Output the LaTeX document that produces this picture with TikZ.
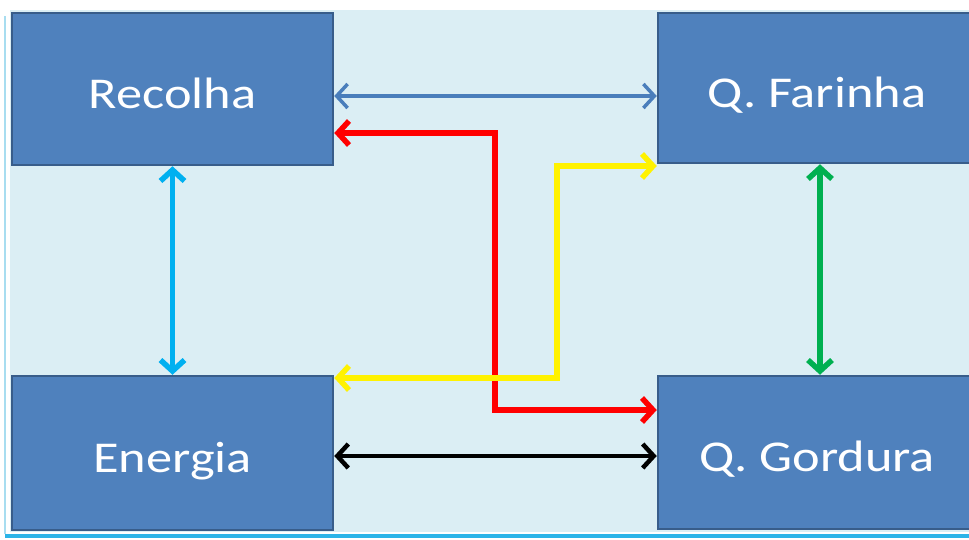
\documentclass[tikz,border=0pt]{standalone}
\usepackage{fontspec}
\setmainfont{Carlito}
\usetikzlibrary{arrows.meta}
\definecolor{bgblue}{HTML}{DBEEF4}
\definecolor{boxfill}{HTML}{4F81BD}
\definecolor{boxline}{HTML}{385D8A}
\definecolor{arrblue}{HTML}{4A7EBB}
\definecolor{arrcyan}{HTML}{00B0F0}
\definecolor{arrgreen}{HTML}{00B050}
\definecolor{edgecyan}{HTML}{2BB4E8}
\definecolor{edgelight}{HTML}{A8DDF0}
\newcommand{\boxlabel}[1]{\scalebox{1.19}[1]{#1}}
\tikzset{
  boxnode/.style={draw=boxline, line width=2.5pt, fill=boxfill, text=white,
    font=\fontsize{44}{50}\selectfont, inner sep=0pt, text height=38pt, text depth=0pt},
  link/.style={line width=5.5pt, {Straight Barb[length=11pt,width=24pt]}-{Straight Barb[length=11pt,width=24pt]}},
}
\begin{document}
\begin{tikzpicture}[x=1pt,y=-1pt]
\useasboundingbox (0,0) rectangle (969,539);
\fill[white] (0,0) rectangle (969,539);
\fill[bgblue] (10,10) rectangle (969,532);
\fill[edgecyan] (5,534) rectangle (969,538);
\fill[edgelight] (4,16) rectangle (6,534);
\begin{scope}
\clip (0,0) rectangle (969,539);
\node[boxnode, minimum width=321pt, minimum height=152pt] (rec) at (172.5,89) {\boxlabel{Recolha}};
\node[boxnode, minimum width=318pt, minimum height=150pt] (far) at (817,88) {\boxlabel{Q. Farinha}};
\node[boxnode, minimum width=321pt, minimum height=154pt] (en) at (172.5,453) {\boxlabel{Energia}};
\node[boxnode, minimum width=318pt, minimum height=153pt] (gor) at (817,452.5) {\boxlabel{Q. Gordura}};
\end{scope}
\draw[link, arrblue, line width=3.5pt] (rec.east |- 0,96) -- (far.west |- 0,96);
\draw[link, black, line width=4.5pt] (en.east |- 0,456) -- (gor.west |- 0,456);
\draw[link, arrcyan] (rec.south) -- (en.north);
\draw[link, arrgreen] (far.south -| 820,0) -- (gor.north -| 820,0);
\draw[link, red, line join=miter] (rec.east |- 0,133) -- (495,133) -- (495,410) -- (gor.west |- 0,410);
\draw[link, yellow, line join=miter] (en.east |- 0,378) -- (557,378) -- (557,166) -- (far.west |- 0,166);
\end{tikzpicture}
\end{document}
